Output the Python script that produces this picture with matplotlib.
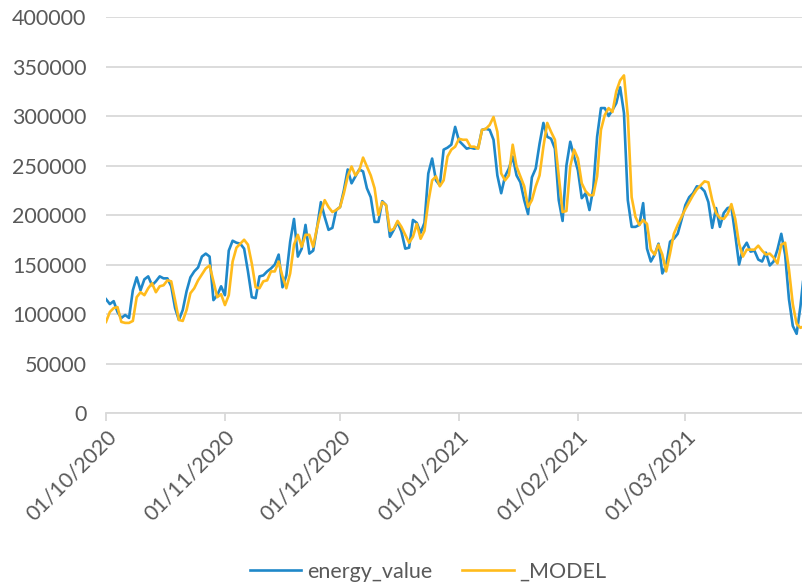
import numpy as np
import pandas as pd
import matplotlib
matplotlib.use("Agg")
import matplotlib.pyplot as plt
import matplotlib.dates as mdates


# Daily values (thousands), 01/10/2020 -> 01/04/2021
energy_value = [
    115, 110, 113, 102, 96, 99, 96, 124, 137, 124,
    135, 138, 129, 133, 138, 136, 136, 128, 106, 94,
    104, 123, 137, 143, 147, 158, 161, 158, 114, 119,
    128, 119, 164, 174, 172, 171, 166, 143, 117, 116,
    138, 139, 143, 146, 150, 160, 127, 139, 173, 196,
    158, 166, 190, 161, 164, 187, 213, 198, 185, 187,
    205, 208, 225, 246, 232, 239, 246, 244, 227, 218,
    193, 193, 214, 210, 178, 185, 193, 183, 166, 167,
    195, 192, 182, 192, 242, 257, 235, 230, 266, 268,
    271, 289, 275, 271, 267, 268, 267, 268, 286, 287,
    286, 276, 240, 222, 239, 247, 259, 240, 233, 215,
    201, 238, 247, 272, 293, 279, 277, 267, 215, 194,
    250, 274, 259, 245, 217, 222, 205, 227, 279, 308,
    308, 300, 306, 313, 329, 303, 215, 188, 188, 190,
    212, 166, 153, 160, 171, 141, 149, 173, 176, 181,
    195, 210, 218, 222, 229, 228, 224, 213, 187, 207,
    188, 202, 207, 208, 180, 150, 166, 172, 163, 164,
    155, 153, 162, 149, 153, 165, 181, 160, 115, 88,
    80, 108, 145,
]

model = [
    92, 102, 106, 107, 92, 91, 91, 93, 117, 122,
    119, 126, 131, 122, 128, 129, 134, 133, 114, 94,
    93, 104, 121, 126, 134, 140, 146, 149, 133, 117,
    120, 109, 119, 153, 167, 171, 175, 170, 151, 127,
    126, 133, 134, 143, 143, 153, 138, 126, 141, 170,
    180, 168, 180, 180, 168, 187, 203, 215, 208, 203,
    205, 208, 222, 239, 249, 240, 245, 258, 249, 240,
    227, 200, 213, 210, 184, 186, 194, 188, 180, 172,
    178, 191, 176, 184, 213, 235, 239, 229, 235, 259,
    266, 269, 277, 276, 276, 269, 269, 267, 286, 287,
    291, 299, 284, 242, 235, 240, 271, 249, 239, 229,
    208, 215, 229, 240, 269, 293, 284, 276, 239, 203,
    204, 249, 266, 257, 232, 224, 220, 220, 239, 286,
    301, 308, 304, 325, 336, 341, 300, 218, 198, 190,
    195, 191, 165, 160, 170, 160, 143, 161, 181, 190,
    198, 206, 213, 220, 226, 230, 234, 233, 215, 202,
    197, 196, 201, 211, 196, 171, 158, 165, 165, 165,
    169, 164, 160, 161, 157, 151, 170, 172, 145, 110,
    90, 86, 88,
]

series_names = ["energy_value", "_MODEL"]

dates = pd.date_range("2020-10-01", periods=len(energy_value), freq="D")
month_ticks = pd.date_range("2020-10-01", "2021-03-01", freq="MS")

grey_txt = "#595959"
grey_line = "#d9d9d9"

plt.rcParams["font.family"] = ["Lato", "DejaVu Sans"]

W, H = 802, 586
fig = plt.figure(figsize=(W / 100, H / 100), dpi=100)
ax = fig.add_axes([106 / W, 1 - 413 / H, 1 - 106 / W, 396 / H])

l1, = ax.plot(dates, np.array(energy_value) * 1000, color="#1f88c9", lw=1.9,
              solid_joinstyle="round")
l2, = ax.plot(dates, np.array(model) * 1000, color="#ffbb1c", lw=1.9,
              solid_joinstyle="round")

# assi
ax.set_ylim(0, 400000)
ax.set_yticks(np.arange(0, 400001, 50000))
ax.set_xlim(dates[0], dates[0] + pd.Timedelta(days=181.4))
ax.set_xticks(month_ticks)
ax.xaxis.set_major_formatter(mdates.DateFormatter("%d/%m/%Y"))

ax.grid(axis="y", color=grey_line, lw=1.3)
ax.set_axisbelow(True)
for s in ["left", "right", "top"]:
    ax.spines[s].set_visible(False)
ax.spines["bottom"].set_color(grey_line)
ax.spines["bottom"].set_linewidth(1.3)

ax.tick_params(axis="y", length=0, pad=14, labelsize=15.5, labelcolor=grey_txt)
ax.tick_params(axis="x", length=6, width=1.3, color=grey_line, pad=4,
               labelsize=15.5, labelcolor=grey_txt)
for lab in ax.get_xticklabels():
    lab.set_rotation(45)
    lab.set_ha("right")
    lab.set_va("top")
    lab.set_rotation_mode("anchor")

# legenda (etichette passate esplicitamente: "_MODEL" inizia con "_")
fig.legend([l1, l2], series_names, loc="center",
           bbox_to_anchor=(428 / W, 1 - 572 / H), ncol=2,
           frameon=False, fontsize=15.5, labelcolor=grey_txt,
           handlelength=2.4, handletextpad=0.25, columnspacing=1.4)

fig.savefig("out.png", dpi=100)
